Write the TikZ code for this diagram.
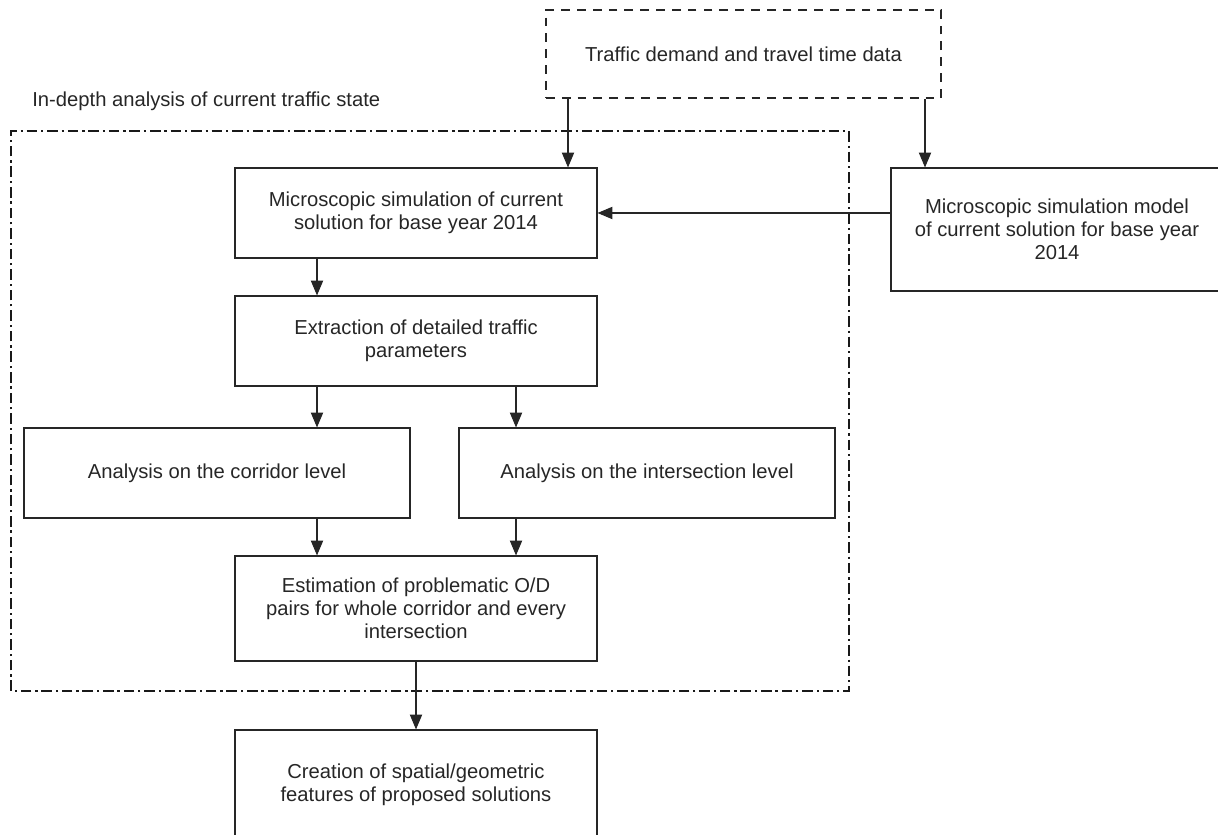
\documentclass[tikz,border=0pt]{standalone}
\usepackage{fontspec}
\setmainfont{Liberation Sans}
\usetikzlibrary{arrows.meta,calc}

\begin{document}
\begin{tikzpicture}
% ---------------------------------------------------------
% Dimensions (1 px of the sketch = 0.02 cm)
% ---------------------------------------------------------
\def\PicW{24.36}     % picture width
\def\PicH{16.68}     % picture height
\def\BoxW{7.24}      % width of the main column boxes
\def\BoxH{1.8}       % height of the plain boxes
\def\ColX{8.32}      % centre of the main column
\def\LeftX{6.34}     % x of the left arrows
\def\RightX{10.32}   % x of the right arrows

% ---------------------------------------------------------
% Styles
% ---------------------------------------------------------
\tikzset{
  every node/.style={font=\fontsize{11.5}{13.2}\selectfont, text=black!85},
  flow box/.style={draw=black!85, line width=0.6pt, align=center,
    minimum width=\BoxW cm, minimum height=\BoxH cm, inner sep=0pt},
  data box/.style={flow box, dash pattern=on 5pt off 4pt},
  frame line/.style={draw=black!90, line width=1.4pt,
    dash pattern=on 6pt off 2.2pt on 1.3pt off 2.2pt},
  flow arrow/.style={draw=black!85, line width=0.6pt,
    -{Triangle[length=8.5pt,width=7pt]}}
}

\path[use as bounding box] (0,0) rectangle (\PicW,\PicH);
\clip (0,0) rectangle (\PicW,\PicH);

% =========================================================
% 1) INPUT DATA AND ANALYSIS FRAME
% =========================================================
\node[data box, minimum width=7.9cm, minimum height=1.76cm] (data)
  at (14.87,15.60) {Traffic demand and travel time data};

\draw[frame line] (0.22,2.86) rectangle (16.98,14.06);
\node[anchor=west, inner sep=0pt] (frametitle) at (0.64,14.66)
  {In-depth analysis of current traffic state};

% =========================================================
% 2) BOXES
% =========================================================
\node[flow box] (sim) at (\ColX,12.42)
  {Microscopic simulation of current\\solution for base year 2014};
\node[flow box, minimum width=6.64cm, minimum height=2.46cm] (model)
  at (21.14,12.09)
  {Microscopic simulation model\\of current solution for base year\\2014};
\node[flow box] (extract) at (\ColX,9.86)
  {Extraction of detailed traffic\\parameters};
\node[flow box, minimum width=7.72cm] (corridor) at (4.34,7.22)
  {Analysis on the corridor level};
\node[flow box, minimum width=7.52cm] (intersect) at (12.94,7.22)
  {Analysis on the intersection level};
\node[flow box, minimum height=2.1cm] (estimate) at (\ColX,4.51)
  {Estimation of problematic O/D\\pairs for whole corridor and every\\intersection};
\node[flow box, minimum height=2.2cm] (create) at (\ColX,0.98)
  {Creation of spatial/geometric\\features of proposed solutions};

% =========================================================
% 3) ARROWS
% =========================================================
\coordinate (dataL) at (11.36,0);
\coordinate (dataR) at (18.50,0);
\coordinate (colL) at (\LeftX,0);
\coordinate (colR) at (\RightX,0);

\draw[flow arrow] (data.south -| dataL) -- (sim.north -| dataL);
\draw[flow arrow] (data.south -| dataR) -- (model.north -| dataR);
\draw[flow arrow] (model.west |- sim.east) -- (sim.east);

\draw[flow arrow] (sim.south -| colL) -- (extract.north -| colL);
\draw[flow arrow] (extract.south -| colL) -- (corridor.north -| colL);
\draw[flow arrow] (extract.south -| colR) -- (intersect.north -| colR);
\draw[flow arrow] (corridor.south -| colL) -- (estimate.north -| colL);
\draw[flow arrow] (intersect.south -| colR) -- (estimate.north -| colR);
\draw[flow arrow] (estimate) -- (create);

\end{tikzpicture}
\end{document}
